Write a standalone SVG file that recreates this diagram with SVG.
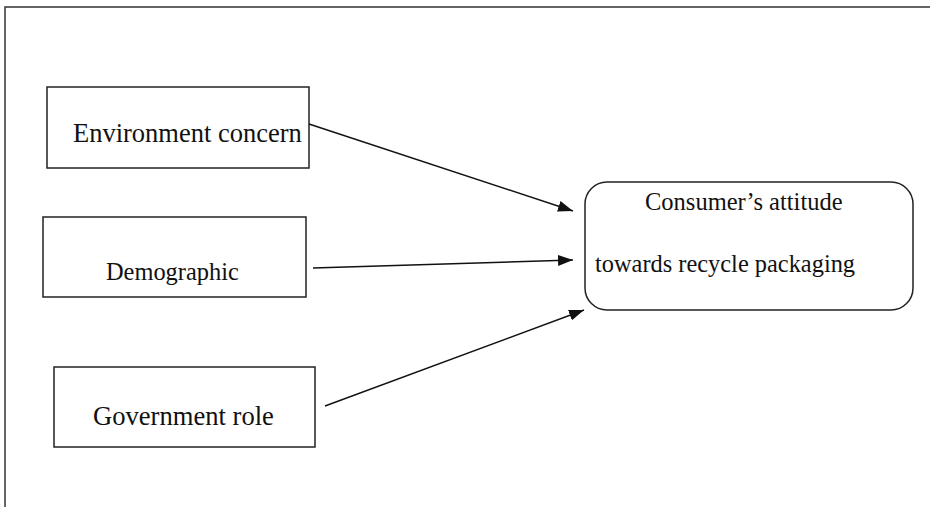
<svg xmlns="http://www.w3.org/2000/svg" width="930" height="507" viewBox="0 0 930 507">
  <style>
    .box { fill: #ffffff; stroke: #222222; stroke-width: 1.5; }
    .lbl { font-family: "Liberation Serif", "Times New Roman", serif; fill: #111111; }
    .edge { stroke: #111111; stroke-width: 1.4; fill: none; marker-end: url(#arrow); }
    .frame { stroke: #333333; stroke-width: 1.5; fill: none; }
  </style>
  <defs>
    <marker id="arrow" viewBox="0 0 15 11" refX="15" refY="5.5" markerWidth="15" markerHeight="11" markerUnits="userSpaceOnUse" orient="auto">
      <path d="M0,0 L15,5.5 L0,11 Z" fill="#111111"/>
    </marker>
  </defs>
  <rect width="930" height="507" fill="#ffffff"/>
  <!-- page frame -->
  <path class="frame" d="M5,507 L5,7 L930,7"/>

  <g id="env">
    <rect class="box" x="47" y="87" width="262" height="81"/>
    <text class="lbl" x="73" y="142" font-size="26.5">Environment concern</text>
  </g>
  <g id="demo">
    <rect class="box" x="43" y="217" width="263" height="80"/>
    <text class="lbl" x="106" y="280" font-size="24.4">Demographic</text>
  </g>
  <g id="gov">
    <rect class="box" x="54" y="367" width="261" height="80"/>
    <text class="lbl" x="93" y="425" font-size="26.6">Government role</text>
  </g>
  <g id="attitude">
    <rect class="box" x="585" y="182" width="328" height="128" rx="22" ry="22"/>
    <text class="lbl" x="645" y="210" font-size="24.5">Consumer’s attitude</text>
    <text class="lbl" x="595" y="272" font-size="24.4">towards recycle packaging</text>
  </g>

  <g id="connectors">
    <line class="edge" x1="309" y1="124" x2="573" y2="211"/>
    <line class="edge" x1="313" y1="268" x2="573" y2="260"/>
    <line class="edge" x1="325" y1="406" x2="584" y2="310"/>
  </g>
</svg>
